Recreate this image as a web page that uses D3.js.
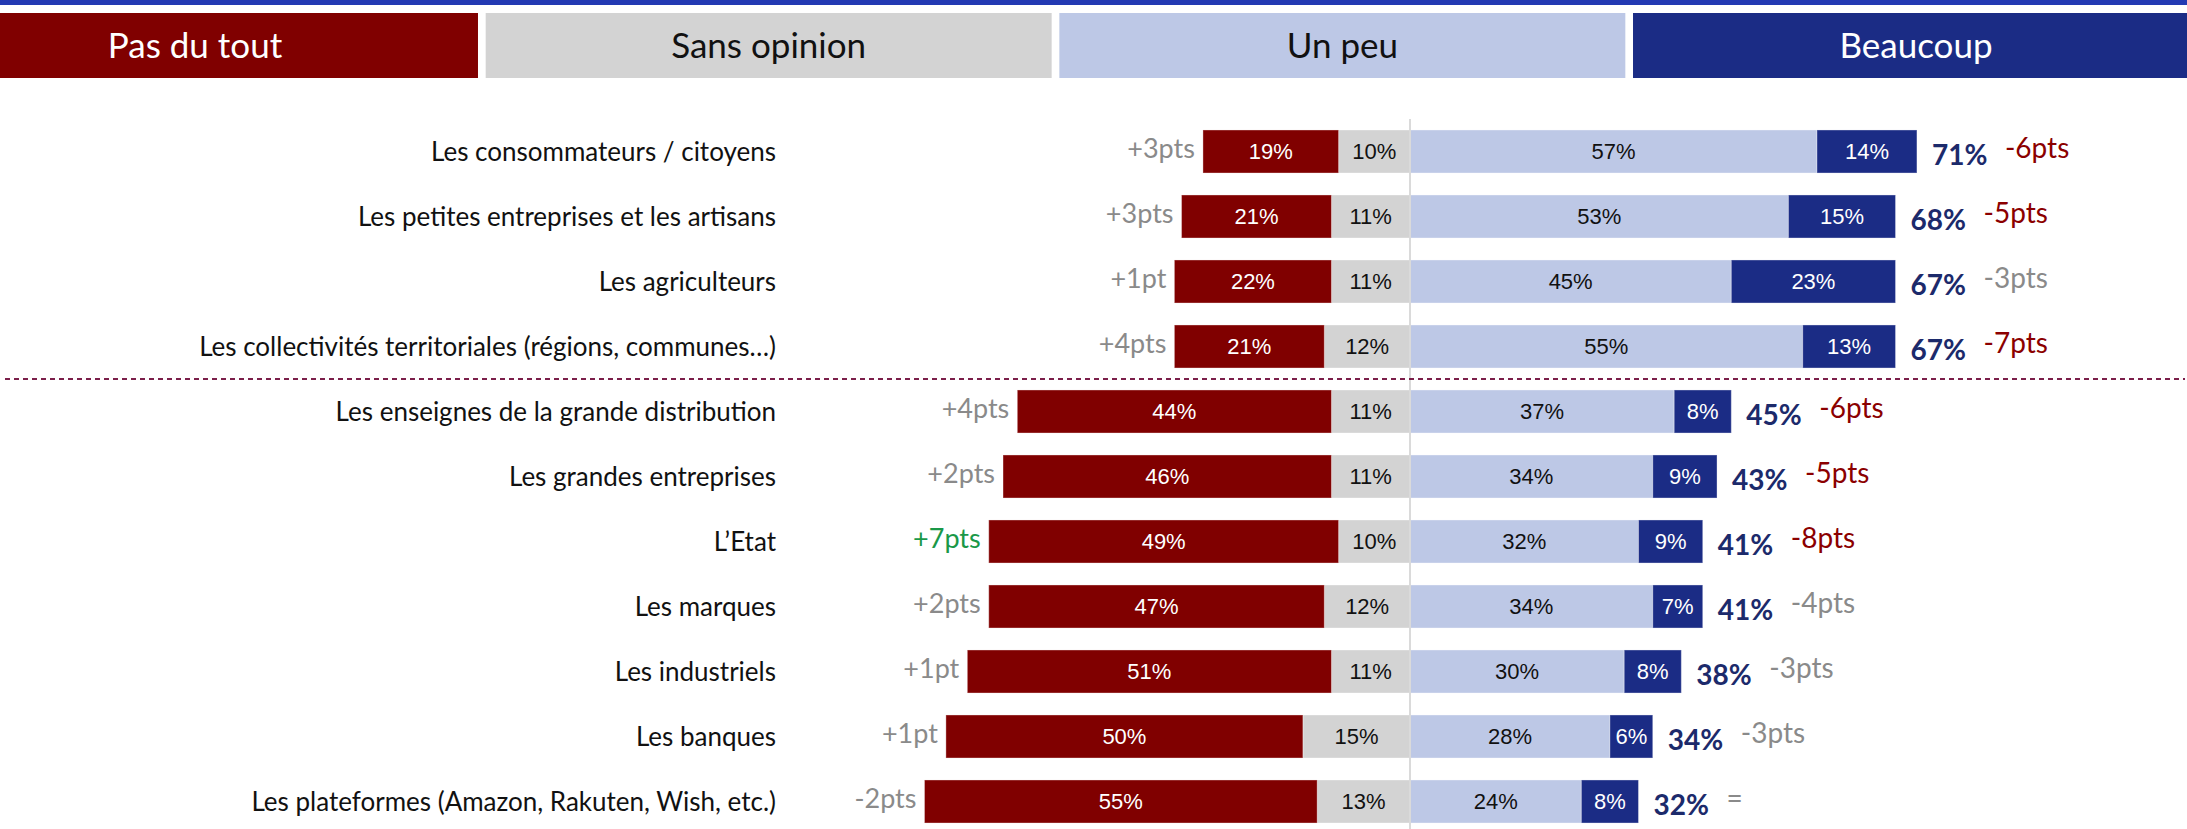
<!DOCTYPE html>
<html>
<head>
<meta charset="utf-8">
<script src="https://cdn.jsdelivr.net/npm/d3@7"></script>
<style>
  body { margin: 0; background: #fff; }
  svg { display: block; }
</style>
</head>
<body>
<script>
(function() {

	var width = 2187;
	var height = 829;

	// legend
	var legendLabels = ['Pas du tout', 'Sans opinion', 'Un peu', 'Beaucoup'];
	var legendColors = ['#800000', '#d3d3d3', '#bdc8e6', '#1b2c85'];
	var legendText = ['#fff', '#111', '#111', '#fff'];

	// rows
	var categories = [
		'Les consommateurs / citoyens',
		'Les petites entreprises et les artisans',
		'Les agriculteurs',
		'Les collectivités territoriales (régions, communes…)',
		'Les enseignes de la grande distribution',
		'Les grandes entreprises',
		'L’Etat',
		'Les marques',
		'Les industriels',
		'Les banques',
		'Les plateformes (Amazon, Rakuten, Wish, etc.)'
	];
	var pasDuTout   = [19, 21, 22, 21, 44, 46, 49, 47, 51, 50, 55];
	var sansOpinion = [10, 11, 11, 12, 11, 11, 10, 12, 11, 15, 13];
	var unPeu       = [57, 53, 45, 55, 37, 34, 32, 34, 30, 28, 24];
	var beaucoup    = [14, 15, 23, 13, 8, 9, 9, 7, 8, 6, 8];
	var totals      = [71, 68, 67, 67, 45, 43, 41, 41, 38, 34, 32];
	var evoLeft     = ['+3pts', '+3pts', '+1pt', '+4pts', '+4pts', '+2pts', '+7pts', '+2pts', '+1pt', '+1pt', '-2pts'];
	var evoLeftSig  = ['ns', 'ns', 'ns', 'ns', 'ns', 'ns', 'up', 'ns', 'ns', 'ns', 'ns'];
	var evoRight    = ['-6pts', '-5pts', '-3pts', '-7pts', '-6pts', '-5pts', '-8pts', '-4pts', '-3pts', '-3pts', '='];
	var evoRightSig = ['down', 'down', 'ns', 'down', 'down', 'down', 'down', 'ns', 'ns', 'ns', 'ns'];
	var groupBreak = 4; // dashed line after the 4th row

	var sigColor = { ns: '#8a8a8a', up: '#1a9848', down: '#8b0000' };

	var svg = d3.select('body')
		.append('svg')
			.attr('width', width)
			.attr('height', height);

	// top rule
	svg.append('rect')
		.attr('x', 0).attr('y', 0)
		.attr('width', width).attr('height', 5)
		.style('fill', '#233ab3');

	// legend boxes
	var lx = d3.scaleBand()
		.domain(legendLabels)
		.range([-88, 2199])
		.paddingInner(0.0134);

	var leg = svg.selectAll('g.leg')
		.data(legendLabels)
		.enter().append('g')
			.attr('class', 'leg');

	leg.append('rect')
		.attr('x', function(d) { return lx(d); })
		.attr('y', 13)
		.attr('width', lx.bandwidth())
		.attr('height', 65)
		.style('fill', function(d, i) { return legendColors[i]; });

	leg.append('text')
		.attr('x', function(d) { return lx(d) + lx.bandwidth() / 2; })
		.attr('y', 46)
		.attr('dy', '0.35em')
		.attr('text-anchor', 'middle')
		.style('font-family', 'Lato, sans-serif')
		.style('font-size', '35px')
		.style('fill', function(d, i) { return legendText[i]; })
		.text(function(d) { return d; });

	// scales
	var x = d3.scaleLinear()
		.domain([-100, 100])
		.range([696, 2124]);

	var y = d3.scaleBand()
		.domain(categories)
		.range([119, 834])
		.paddingInner(0.338)
		.paddingOuter(0.169);

	var rows = categories.map(function(c, i) {
		return {
			cat: c,
			so: -sansOpinion[i],
			pdt: -pasDuTout[i],
			up: unPeu[i],
			b: beaucoup[i]
		};
	});

	var keys = ['so', 'pdt', 'up', 'b'];
	var keyColor = { pdt: '#800000', so: '#d3d3d3', up: '#bdc8e6', b: '#1b2c85' };
	var keyText = { pdt: '#fff', so: '#111', up: '#111', b: '#fff' };

	var series = d3.stack()
		.keys(keys)
		.offset(d3.stackOffsetDiverging)(rows);

	var layer = svg.selectAll('g.layer')
		.data(series)
		.enter().append('g')
			.attr('class', 'layer');

	layer.selectAll('rect')
		.data(function(s) { return s.map(function(p) { p.key = s.key; return p; }); })
		.enter().append('rect')
			.attr('x', function(p) { return x(p[0]); })
			.attr('y', function(p) { return y(p.data.cat); })
			.attr('width', function(p) { return x(p[1]) - x(p[0]); })
			.attr('height', y.bandwidth())
			.style('fill', function(p) { return keyColor[p.key]; })
			.style('stroke', '#fff')
			.style('stroke-opacity', 0.35)
			.style('stroke-width', 1);

	layer.selectAll('text')
		.data(function(s) { return s; })
		.enter().append('text')
			.attr('x', function(p) { return (x(p[0]) + x(p[1])) / 2; })
			.attr('y', function(p) { return y(p.data.cat) + y.bandwidth() / 2; })
			.attr('dy', '0.36em')
			.attr('text-anchor', 'middle')
			.style('font-family', '"Liberation Sans", Arial, sans-serif')
			.style('font-size', '22px')
			.style('fill', function(p) { return keyText[p.key]; })
			.text(function(p) { return Math.abs(p[1] - p[0]) + '%'; });

	// center line
	svg.append('line')
		.attr('x1', x(0)).attr('x2', x(0))
		.attr('y1', 119).attr('y2', height)
		.style('stroke', '#dadada')
		.style('stroke-width', 2);

	// category labels
	svg.selectAll('text.cat')
		.data(categories)
		.enter().append('text')
			.attr('class', 'cat')
			.attr('x', 776)
			.attr('y', function(d) { return y(d) + y.bandwidth() / 2; })
			.attr('dy', '0.36em')
			.attr('text-anchor', 'end')
			.style('font-family', 'Lato, sans-serif')
			.style('font-size', '26px')
			.style('fill', '#111')
			.text(function(d) { return d; });

	// evolutions, negative side
	svg.selectAll('text.evoL')
		.data(categories)
		.enter().append('text')
			.attr('class', 'evoL')
			.attr('x', function(d, i) { return x(-(pasDuTout[i] + sansOpinion[i])) - 8; })
			.attr('y', function(d) { return y(d) + y.bandwidth() / 2 - 3; })
			.attr('dy', '0.36em')
			.attr('text-anchor', 'end')
			.style('font-family', 'Lato, sans-serif')
			.style('font-size', '27px')
			.style('fill', function(d, i) { return sigColor[evoLeftSig[i]]; })
			.text(function(d, i) { return evoLeft[i]; });

	// totals
	svg.selectAll('text.tot')
		.data(categories)
		.enter().append('text')
			.attr('class', 'tot')
			.attr('x', function(d, i) { return x(unPeu[i] + beaucoup[i]) + 15; })
			.attr('y', function(d) { return y(d) + y.bandwidth() / 2 + 3; })
			.attr('dy', '0.36em')
			.style('font-family', 'Lato, sans-serif')
			.style('font-weight', 'bold')
			.style('font-size', '28px')
			.style('fill', '#1c2a6b')
			.text(function(d, i) { return totals[i] + '%'; });

	// evolutions, positive side
	svg.selectAll('text.evoR')
		.data(categories)
		.enter().append('text')
			.attr('class', 'evoR')
			.attr('x', function(d, i) { return x(unPeu[i] + beaucoup[i]) + 88; })
			.attr('y', function(d) { return y(d) + y.bandwidth() / 2 - 4; })
			.attr('dy', '0.36em')
			.style('font-family', 'Lato, sans-serif')
			.style('font-size', '28px')
			.style('fill', function(d, i) { return sigColor[evoRightSig[i]]; })
			.text(function(d, i) { return evoRight[i]; });

	// dashed separator between the two groups
	var sepY = (y(categories[groupBreak - 1]) + y.bandwidth() + y(categories[groupBreak])) / 2;
	svg.append('line')
		.attr('x1', 5).attr('x2', width - 2)
		.attr('y1', sepY).attr('y2', sepY)
		.style('stroke', '#7b1f4a')
		.style('stroke-width', 2)
		.style('stroke-dasharray', '5,4');

})();
</script>
</body>
</html>
